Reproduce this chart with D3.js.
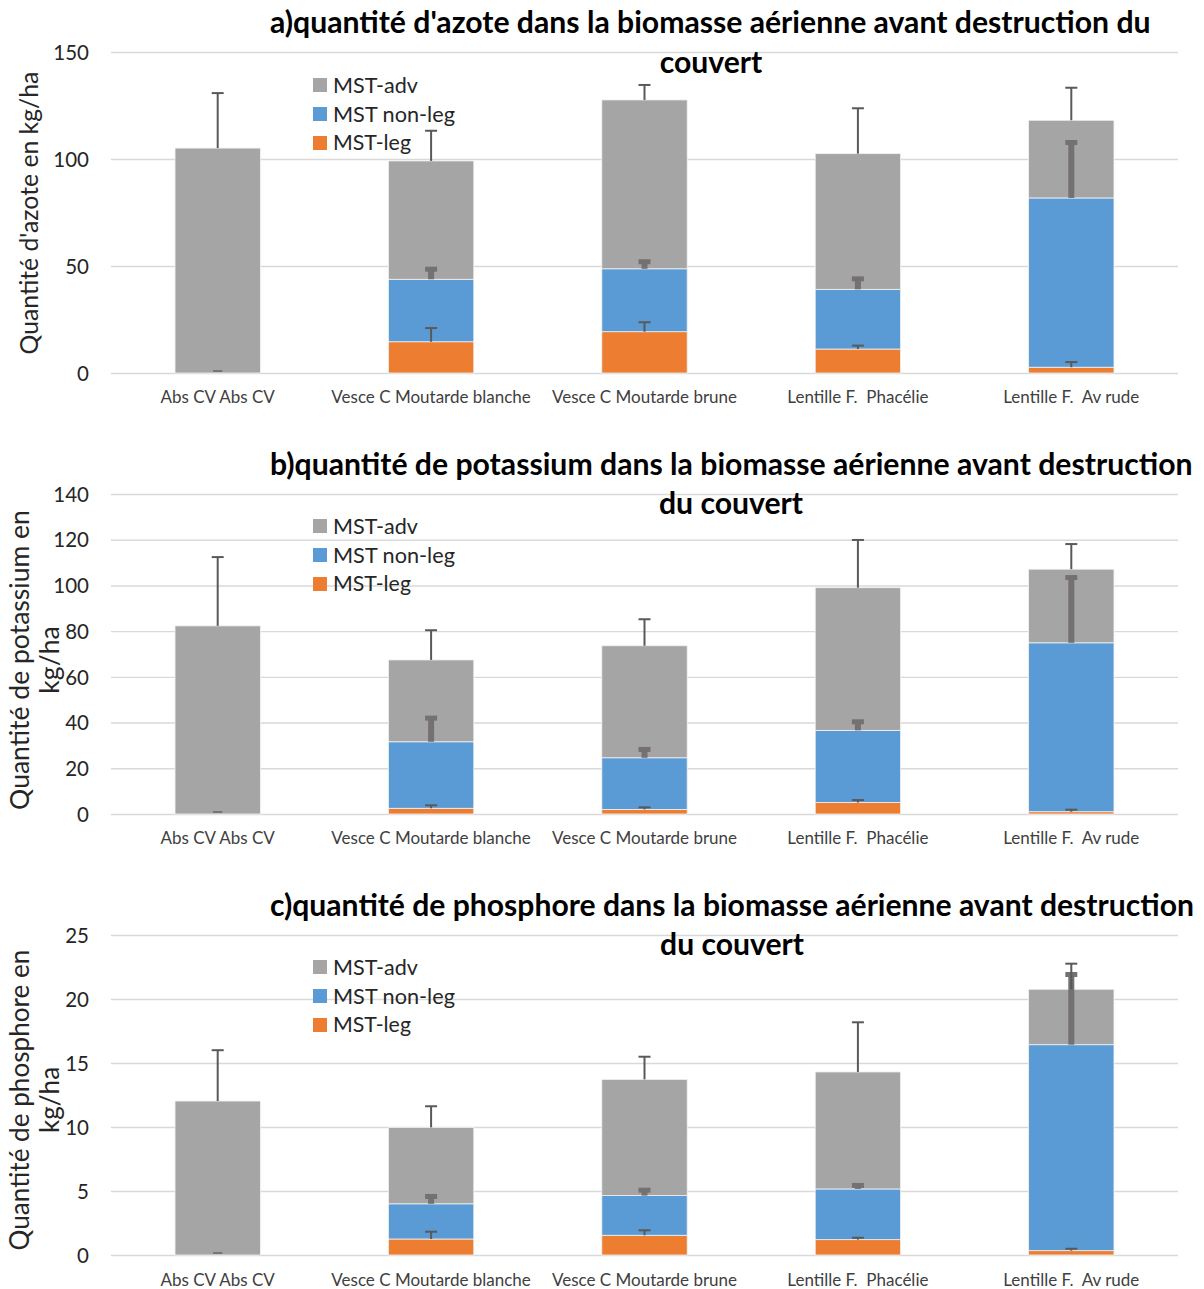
<!DOCTYPE html>
<html>
<head>
<meta charset="utf-8">
<script src="https://cdn.jsdelivr.net/npm/d3@7"></script>
<style>
  html, body { margin: 0; padding: 0; background: #fff; }
  svg { display: block; font-family: Lato, "Open Sans", "Noto Sans", sans-serif; }
  .cat { white-space: pre; }
</style>
</head>
<body>
<svg id="chart" width="1204" height="1289"></svg>
<script>
// Treatments (x categories)
const categories = ["Abs CV Abs CV", "Vesce C Moutarde blanche", "Vesce C Moutarde brune", "Lentille F.  Phacélie", "Lentille F.  Av rude"];
const seriesNames = ["MST-leg", "MST non-leg", "MST-adv"];
const seriesColors = ["#ED7D31", "#5B9BD5", "#A5A5A5"];

// a) nitrogen, kg/ha
const azoteLeg       = [0, 14.6, 19.3, 11.2, 2.7];
const azoteNonLeg    = [0, 29.2, 29.4, 27.9, 79.1];
const azoteAdv       = [105.1, 55.3, 78.9, 63.4, 36.3];
const azoteLegErr    = [0, 6.4, 4.4, 1.6, 2.4];
const azoteNonLegErr = [0, 5.4, 4.0, 5.6, 26.6];
const azoteAdvErr    = [25.7, 14.1, 7.0, 21.2, 15.2];
const azoteTicks     = [0, 50, 100, 150];

// b) potassium, kg/ha
const potassiumLeg       = [0, 2.5, 2.0, 5.0, 1.0];
const potassiumNonLeg    = [0, 29.1, 22.6, 31.6, 73.9];
const potassiumAdv       = [82.3, 35.8, 49.0, 62.4, 32.2];
const potassiumLegErr    = [0, 1.3, 0.9, 1.1, 0.9];
const potassiumNonLegErr = [0, 11.0, 4.3, 4.4, 29.2];
const potassiumAdvErr    = [30.1, 13.0, 11.6, 20.9, 11.0];
const potassiumTicks     = [0, 20, 40, 60, 80, 100, 120, 140];

// c) phosphorus, kg/ha
const phosphoreLeg       = [0, 1.25, 1.54, 1.20, 0.34];
const phosphoreNonLeg    = [0, 2.75, 3.10, 3.96, 16.09];
const phosphoreAdv       = [12.03, 5.97, 9.08, 9.14, 4.33];
const phosphoreLegErr    = [0, 0.57, 0.39, 0.15, 0.15];
const phosphoreNonLegErr = [0, 0.69, 0.54, 0.39, 5.6];
const phosphoreAdvErr    = [3.97, 1.65, 1.77, 3.88, 2.0];
const phosphoreTicks     = [0, 5, 10, 15, 20, 25];

const panels = [
  {
    titleLines: ["a)quantité d'azote dans la biomasse aérienne avant destruction du", "couvert"],
    titleW: 881, title2Cx: 711, titleY: [33, 73],
    yTitle: ["Quantité d'azote en kg/ha"], yTitleCy: 213, yTitleX: [38], yTitleW: [283],
    top: 52, bottom: 373, max: 150, ticks: azoteTicks,
    values: [azoteLeg, azoteNonLeg, azoteAdv],
    errors: [azoteLegErr, azoteNonLegErr, azoteAdvErr],
    legendY: 85, catY: 403
  },
  {
    titleLines: ["b)quantité de potassium dans la biomasse aérienne avant destruction", "du couvert"],
    titleW: 923, title2Cx: 731, titleY: [475, 514],
    yTitle: ["Quantité de potassium en", "kg/ha"], yTitleCy: 660, yTitleX: [29, 59], yTitleW: [300, 44],
    top: 494, bottom: 814, max: 140, ticks: potassiumTicks,
    values: [potassiumLeg, potassiumNonLeg, potassiumAdv],
    errors: [potassiumLegErr, potassiumNonLegErr, potassiumAdvErr],
    legendY: 526, catY: 844
  },
  {
    titleLines: ["c)quantité de phosphore dans la biomasse aérienne avant destruction", "du couvert"],
    titleW: 924, title2Cx: 732, titleY: [916, 955],
    yTitle: ["Quantité de phosphore en", "kg/ha"], yTitleCy: 1100, yTitleX: [29, 59], yTitleW: [301, 44],
    top: 935, bottom: 1255, max: 25, ticks: phosphoreTicks,
    values: [phosphoreLeg, phosphoreNonLeg, phosphoreAdv],
    errors: [phosphoreLegErr, phosphoreNonLegErr, phosphoreAdvErr],
    legendY: 967, catY: 1286
  }
];

const svg = d3.select("#chart");
const left = 111, right = 1178;

const x = d3.scaleBand().domain(categories).range([left, right])
  .paddingInner(0.6).paddingOuter(0.3);

// scale a text element's font size so that it spans the given width
function fit(sel, w) {
  const len = sel.node().getComputedTextLength();
  const fs = parseFloat(sel.attr("font-size"));
  sel.attr("font-size", fs * w / len);
}

const legendWidths = { "MST-adv": 85, "MST non-leg": 122, "MST-leg": 78 };

panels.forEach(p => {
  const g = svg.append("g");
  const y = d3.scaleLinear().domain([0, p.max]).range([p.bottom, p.top]);

  // gridlines + tick labels
  const axis = d3.axisLeft(y).tickValues(p.ticks).tickSize(-(right - left)).tickPadding(22);
  const ag = g.append("g").attr("transform", `translate(${left},0)`).call(axis);
  ag.select(".domain").remove();
  ag.selectAll(".tick line").attr("stroke", "#d9d9d9").attr("stroke-width", 1.4);
  ag.selectAll(".tick text").attr("font-size", 20.5).attr("fill", "#262626")
    .attr("font-family", "Lato, sans-serif").attr("dy", "0.35em");

  // stacked segments
  const n = categories.length;
  const starts = d3.range(n).map(() => 0);
  const stacks = p.values.map(vals => {
    const s = vals.map((v, i) => ({ i, y0: starts[i], y1: starts[i] + v }));
    vals.forEach((v, i) => { starts[i] += v; });
    return s;
  });

  stacks.forEach((s, k) => {
    g.append("g").selectAll("rect").data(s).join("rect")
      .attr("x", d => x(categories[d.i]))
      .attr("width", x.bandwidth())
      .attr("y", d => y(d.y1))
      .attr("height", d => y(d.y0) - y(d.y1))
      .attr("fill", seriesColors[k])
      .attr("stroke", "#f2f2f2").attr("stroke-width", 0.8);
  });

  // error bars (plus direction) from each segment's top
  stacks.forEach((s, k) => {
    const errs = p.errors[k];
    const eg = g.append("g");
    s.forEach(d => {
      const cx = x(categories[d.i]) + x.bandwidth() / 2;
      const y1 = y(d.y1), y2 = y(d.y1 + errs[d.i]);
      if (errs[d.i] === 0) {
        // empty segment: only a short flat cap on the baseline
        if (k < 2) {
          eg.append("line").attr("x1", cx - 4.5).attr("x2", cx + 4.5)
            .attr("y1", y1 - 2).attr("y2", y1 - 2)
            .attr("stroke", "#7a7070").attr("stroke-width", 1.5);
        }
        return;
      }
      if (k === 1) {
        eg.append("rect").attr("x", cx - 3).attr("width", 6)
          .attr("y", y2).attr("height", Math.max(0, y1 - y2)).attr("fill", "#767171");
        eg.append("rect").attr("x", cx - 6).attr("width", 12)
          .attr("y", y2 - 1).attr("height", 5).attr("fill", "#767171");
      } else {
        eg.append("line").attr("x1", cx).attr("x2", cx).attr("y1", y1).attr("y2", y2)
          .attr("stroke", "#595959").attr("stroke-width", 2);
        eg.append("line").attr("x1", cx - 6).attr("x2", cx + 6).attr("y1", y2).attr("y2", y2)
          .attr("stroke", "#595959").attr("stroke-width", 2);
      }
    });
  });

  // category labels
  g.append("g").selectAll("text").data(categories).join("text")
    .attr("class", "cat")
    .attr("x", d => x(d) + x.bandwidth() / 2)
    .attr("y", p.catY)
    .attr("text-anchor", "middle")
    .attr("font-size", 17)
    .attr("fill", "#404040")
    .text(d => d);

  // legend (top entry first)
  const legendOrder = [2, 1, 0];
  legendOrder.forEach((k, j) => {
    const ly = p.legendY + j * 29;
    g.append("rect").attr("x", 313).attr("y", ly - 7).attr("width", 14).attr("height", 14)
      .attr("fill", seriesColors[k]);
    const t = g.append("text").attr("x", 333).attr("y", ly).attr("dy", "0.35em")
      .attr("font-size", 21).attr("fill", "#262626").text(seriesNames[k]);
    fit(t, legendWidths[seriesNames[k]]);
  });

  // title
  const t1 = g.append("text").attr("x", 270).attr("y", p.titleY[0])
    .attr("font-size", 26).attr("font-weight", "bold").attr("fill", "#000").text(p.titleLines[0]);
  fit(t1, p.titleW);
  g.append("text").attr("x", p.title2Cx).attr("y", p.titleY[1]).attr("text-anchor", "middle")
    .attr("font-size", t1.attr("font-size")).attr("font-weight", "bold").attr("fill", "#000")
    .text(p.titleLines[1]);

  // y-axis title
  let yfs = null;
  p.yTitle.forEach((line, j) => {
    const t = g.append("text")
      .attr("transform", `translate(${p.yTitleX[j]},${p.yTitleCy}) rotate(-90)`)
      .attr("text-anchor", "middle").attr("font-size", 24).attr("fill", "#262626").text(line);
    if (j === 0) { fit(t, p.yTitleW[0]); yfs = t.attr("font-size"); }
    else t.attr("font-size", yfs);
  });
});
</script>
</body>
</html>
